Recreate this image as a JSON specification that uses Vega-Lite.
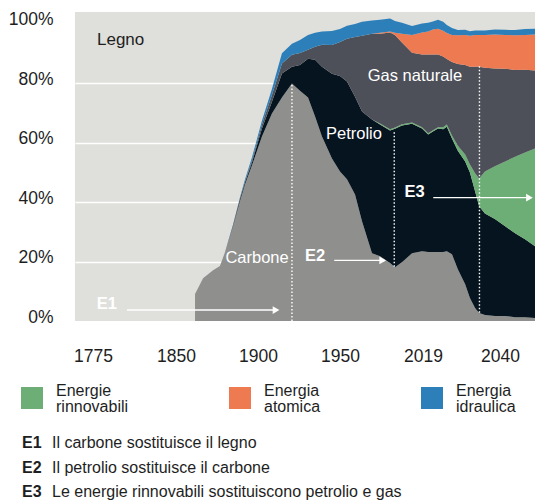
{
  "$schema": "https://vega.github.io/schema/vega-lite/v6.json",
  "padding": {"left": 8, "top": 10, "right": 0, "bottom": 0},
  "config": {"font": "Liberation Sans", "view": {"stroke": null}},
  "spacing": 70,
  "datasets": {
    "energy": [
      {"year": 1861.6, "Carbone": 9.1, "Petrolio": 0, "Energie rinnovabili": 0, "Gas naturale": 0, "Energia atomica": 0, "Energia idraulica": 0},
      {"year": 1866.5, "Carbone": 14.4, "Petrolio": 0, "Energie rinnovabili": 0, "Gas naturale": 0, "Energia atomica": 0, "Energia idraulica": 0},
      {"year": 1872.6, "Carbone": 17.1, "Petrolio": 0, "Energie rinnovabili": 0, "Gas naturale": 0, "Energia atomica": 0, "Energia idraulica": 0},
      {"year": 1876.8, "Carbone": 18.5, "Petrolio": 0, "Energie rinnovabili": 0, "Gas naturale": 0, "Energia atomica": 0, "Energia idraulica": 0},
      {"year": 1879.9, "Carbone": 23.2, "Petrolio": 0, "Energie rinnovabili": 0, "Gas naturale": 0, "Energia atomica": 0, "Energia idraulica": 0},
      {"year": 1884.8, "Carbone": 31.9, "Petrolio": 0.3, "Energie rinnovabili": 0, "Gas naturale": 0, "Energia atomica": 0, "Energia idraulica": 0.3},
      {"year": 1889.0, "Carbone": 40.3, "Petrolio": 0.7, "Energie rinnovabili": 0, "Gas naturale": 0.3, "Energia atomica": 0, "Energia idraulica": 0.3},
      {"year": 1892.1, "Carbone": 46.0, "Petrolio": 0.7, "Energie rinnovabili": 0, "Gas naturale": 0.3, "Energia atomica": 0, "Energia idraulica": 0.7},
      {"year": 1896.3, "Carbone": 52.3, "Petrolio": 1.0, "Energie rinnovabili": 0, "Gas naturale": 0.7, "Energia atomica": 0, "Energia idraulica": 1.0},
      {"year": 1902.4, "Carbone": 62.1, "Petrolio": 2.7, "Energie rinnovabili": 0, "Gas naturale": 1.3, "Energia atomica": 0, "Energia idraulica": 1.3},
      {"year": 1908.5, "Carbone": 69.8, "Petrolio": 4.0, "Energie rinnovabili": 0, "Gas naturale": 2.3, "Energia atomica": 0, "Energia idraulica": 2.0},
      {"year": 1914.6, "Carbone": 75.2, "Petrolio": 8.1, "Energie rinnovabili": 0, "Gas naturale": 3.4, "Energia atomica": 0, "Energia idraulica": 3.4},
      {"year": 1920.7, "Carbone": 79.9, "Petrolio": 5.7, "Energie rinnovabili": 0, "Gas naturale": 4.0, "Energia atomica": 0, "Energia idraulica": 3.7},
      {"year": 1925.6, "Carbone": 77.5, "Petrolio": 8.7, "Energie rinnovabili": 0, "Gas naturale": 4.0, "Energia atomica": 0, "Energia idraulica": 4.4},
      {"year": 1930.5, "Carbone": 75.2, "Petrolio": 13.1, "Energie rinnovabili": 0, "Gas naturale": 3.0, "Energia atomica": 0, "Energia idraulica": 5.0},
      {"year": 1934.8, "Carbone": 68.8, "Petrolio": 19.1, "Energie rinnovabili": 0, "Gas naturale": 4.4, "Energia atomica": 0, "Energia idraulica": 4.7},
      {"year": 1939.0, "Carbone": 62.1, "Petrolio": 23.5, "Energie rinnovabili": 0, "Gas naturale": 7.4, "Energia atomica": 0, "Energia idraulica": 4.4},
      {"year": 1945.1, "Carbone": 54.7, "Petrolio": 28.5, "Energie rinnovabili": 0, "Gas naturale": 9.7, "Energia atomica": 0, "Energia idraulica": 4.7},
      {"year": 1950.0, "Carbone": 50.3, "Petrolio": 32.2, "Energie rinnovabili": 0, "Gas naturale": 11.4, "Energia atomica": 0, "Energia idraulica": 4.4},
      {"year": 1955.8, "Carbone": 47.7, "Petrolio": 32.9, "Energie rinnovabili": 0, "Gas naturale": 14.4, "Energia atomica": 0, "Energia idraulica": 4.4},
      {"year": 1962.5, "Carbone": 42.6, "Petrolio": 32.9, "Energie rinnovabili": 0, "Gas naturale": 20.1, "Energia atomica": 0, "Energia idraulica": 4.4},
      {"year": 1968.3, "Carbone": 33.6, "Petrolio": 36.9, "Energie rinnovabili": 0, "Gas naturale": 25.5, "Energia atomica": 0, "Energia idraulica": 4.7},
      {"year": 1976.6, "Carbone": 22.8, "Petrolio": 45.0, "Energie rinnovabili": 0, "Gas naturale": 28.9, "Energia atomica": 0, "Energia idraulica": 4.4},
      {"year": 1983.3, "Carbone": 21.8, "Petrolio": 44.3, "Energie rinnovabili": 0.4, "Gas naturale": 30.2, "Energia atomica": 0.3, "Energia idraulica": 4.4},
      {"year": 1991.6, "Carbone": 19.5, "Petrolio": 44.6, "Energie rinnovabili": 0.4, "Gas naturale": 32.6, "Energia atomica": 0.3, "Energia idraulica": 4.4},
      {"year": 1995.7, "Carbone": 18.1, "Petrolio": 46.6, "Energie rinnovabili": 0.4, "Gas naturale": 31.2, "Energia atomica": 0.7, "Energia idraulica": 4.0},
      {"year": 2001.5, "Carbone": 19.8, "Petrolio": 46.0, "Energie rinnovabili": 0.4, "Gas naturale": 27.5, "Energia atomica": 3.0, "Energia idraulica": 3.7},
      {"year": 2009.9, "Carbone": 22.8, "Petrolio": 43.6, "Energie rinnovabili": 0.4, "Gas naturale": 23.5, "Energia atomica": 6.0, "Energia idraulica": 3.0},
      {"year": 2018.2, "Carbone": 23.5, "Petrolio": 41.3, "Energie rinnovabili": 0.4, "Gas naturale": 24.5, "Energia atomica": 7.4, "Energia idraulica": 3.0},
      {"year": 2020.4, "Carbone": 23.2, "Petrolio": 39.6, "Energie rinnovabili": 0.4, "Gas naturale": 26.5, "Energia atomica": 7.7, "Energia idraulica": 3.0},
      {"year": 2021.7, "Carbone": 23.2, "Petrolio": 40.6, "Energie rinnovabili": 0.4, "Gas naturale": 25.5, "Energia atomica": 8.4, "Energia idraulica": 2.7},
      {"year": 2023.1, "Carbone": 23.2, "Petrolio": 41.6, "Energie rinnovabili": 0.4, "Gas naturale": 24.5, "Energia atomica": 8.7, "Energia idraulica": 3.0},
      {"year": 2024.5, "Carbone": 23.2, "Petrolio": 41.3, "Energie rinnovabili": 0.7, "Gas naturale": 23.8, "Energia atomica": 8.7, "Energia idraulica": 3.0},
      {"year": 2025.5, "Carbone": 23.5, "Petrolio": 41.9, "Energie rinnovabili": 0.7, "Gas naturale": 22.1, "Energia atomica": 8.7, "Energia idraulica": 2.7},
      {"year": 2026.9, "Carbone": 22.5, "Petrolio": 38.9, "Energie rinnovabili": 1.0, "Gas naturale": 24.8, "Energia atomica": 9.1, "Energia idraulica": 2.3},
      {"year": 2028.5, "Carbone": 17.4, "Petrolio": 39.9, "Energie rinnovabili": 1.7, "Gas naturale": 27.5, "Energia atomica": 9.7, "Energia idraulica": 1.7},
      {"year": 2030.5, "Carbone": 12.4, "Petrolio": 41.3, "Energie rinnovabili": 2.3, "Gas naturale": 30.2, "Energia atomica": 10.1, "Energia idraulica": 1.7},
      {"year": 2031.8, "Carbone": 7.7, "Petrolio": 42.3, "Energie rinnovabili": 2.7, "Gas naturale": 32.9, "Energia atomica": 10.4, "Energia idraulica": 1.5},
      {"year": 2033.2, "Carbone": 4.4, "Petrolio": 39.3, "Energie rinnovabili": 6.0, "Gas naturale": 35.9, "Energia atomica": 10.7, "Energia idraulica": 1.5},
      {"year": 2034.3, "Carbone": 2.7, "Petrolio": 35.9, "Energie rinnovabili": 9.4, "Gas naturale": 37.6, "Energia atomica": 10.7, "Energia idraulica": 1.5},
      {"year": 2035.9, "Carbone": 2.0, "Petrolio": 34.2, "Energie rinnovabili": 14.1, "Gas naturale": 34.9, "Energia atomica": 11.1, "Energia idraulica": 1.5},
      {"year": 2038.6, "Carbone": 1.7, "Petrolio": 32.6, "Energie rinnovabili": 17.8, "Gas naturale": 32.9, "Energia atomica": 11.4, "Energia idraulica": 1.7},
      {"year": 2041.4, "Carbone": 1.7, "Petrolio": 30.2, "Energie rinnovabili": 21.8, "Gas naturale": 31.2, "Energia atomica": 11.4, "Energia idraulica": 1.7},
      {"year": 2044.1, "Carbone": 1.3, "Petrolio": 28.2, "Energie rinnovabili": 25.8, "Gas naturale": 29.2, "Energia atomica": 11.7, "Energia idraulica": 1.7},
      {"year": 2046.8, "Carbone": 1.3, "Petrolio": 26.2, "Energie rinnovabili": 29.2, "Gas naturale": 27.9, "Energia atomica": 11.7, "Energia idraulica": 2.0},
      {"year": 2049.5, "Carbone": 1.0, "Petrolio": 24.2, "Energie rinnovabili": 32.9, "Gas naturale": 26.2, "Energia atomica": 12.1, "Energia idraulica": 2.0}
    ],
    "stackorder": [
      {"series": "Carbone", "ord": 1},
      {"series": "Petrolio", "ord": 2},
      {"series": "Energie rinnovabili", "ord": 3},
      {"series": "Gas naturale", "ord": 4},
      {"series": "Energia atomica", "ord": 5},
      {"series": "Energia idraulica", "ord": 6}
    ]
  },
  "vconcat": [
    {
      "width": 460,
      "height": 309,
      "view": {"fill": "#dfdfdb", "stroke": null},
      "encoding": {
        "x": {
          "field": "year", "type": "quantitative",
          "scale": {"domain": [1758.7, 1775, 1850, 1900, 1950, 2019, 2040, 2049.5], "range": [0, 18, 101, 183, 265, 348, 425, 460], "nice": false, "zero": false},
          "axis": {"values": [1775, 1850, 1900, 1950, 2019, 2040], "format": "d", "title": null, "domain": false, "ticks": false, "tickSize": 0, "grid": false, "labelPadding": 40, "labelBaseline": "alphabetic", "labelFontSize": 17.5, "labelColor": "#1e1e1e", "labelFlush": false, "labelOverlap": false}
        },
        "y": {
          "field": "pct", "type": "quantitative",
          "scale": {"domain": [0, 104], "nice": false},
          "axis": {"values": [0, 20, 40, 60, 80, 100], "labelExpr": "datum.value + '%'", "title": null, "domain": false, "ticks": false, "tickSize": 0, "grid": true, "gridColor": {"condition": {"test": "datum.value == 0 || datum.value == 100", "value": "transparent"}, "value": "#ffffff"}, "gridWidth": 1.3, "labelPadding": 22, "labelBaseline": "alphabetic", "labelOffset": 1, "labelFontSize": 17.5, "labelColor": "#1e1e1e", "labelOverlap": false}
        }
      },
      "layer": [
        {
          "data": {"name": "energy"},
          "transform": [
            {"fold": ["Carbone", "Petrolio", "Energie rinnovabili", "Gas naturale", "Energia atomica", "Energia idraulica"], "as": ["series", "pct"]},
            {"lookup": "series", "from": {"data": {"name": "stackorder"}, "key": "series", "fields": ["ord"]}}
          ],
          "mark": {"type": "area", "interpolate": "linear"},
          "encoding": {
            "y": {"field": "pct", "type": "quantitative", "stack": "zero"},
            "order": {"field": "ord", "type": "quantitative"},
            "color": {
              "field": "series", "type": "nominal",
              "scale": {"domain": ["Carbone", "Petrolio", "Energie rinnovabili", "Gas naturale", "Energia atomica", "Energia idraulica"], "range": ["#8f908e", "#06141f", "#6cae75", "#4d5058", "#ee7a52", "#2d7fb9"]},
              "legend": {"values": ["Energie rinnovabili", "Energia atomica", "Energia idraulica"], "labelExpr": "split(datum.label, ' ')", "title": null, "orient": "none", "legendX": -54, "legendY": 375, "direction": "horizontal", "columns": 3, "gridAlign": "none", "columnPadding": 100, "symbolType": "square", "symbolSize": 484, "symbolStrokeWidth": 0, "symbolOpacity": 1, "labelFontSize": 16, "labelOffset": 13, "labelLimit": 200, "labelColor": "#1e1e1e", "padding": 0, "encode": {"labels": {"update": {"lineHeight": {"value": 16}, "dy": {"value": -7}}}}}
            }
          }
        },
        {
          "data": {"values": [
            {"year": 1920.7, "pct": 0, "pct2": 79.9},
            {"year": 1995.1, "pct": 18.3, "pct2": 64.0},
            {"year": 2034.4, "pct": 2.8, "pct2": 85.7}
          ]},
          "mark": {"type": "rule", "color": "#ffffff", "strokeWidth": 1.4, "strokeDash": [1.5, 2]},
          "encoding": {"y2": {"field": "pct2"}}
        },
        {
          "data": {"values": [
            {"year": 1805.7, "year2": 1911.0, "pct": 3.7},
            {"year": 1946.5, "year2": 1985.5, "pct": 20.4},
            {"year": 2021.8, "year2": 2048.0, "pct": 41.5}
          ]},
          "mark": {"type": "rule", "color": "#ffffff", "strokeWidth": 1.3},
          "encoding": {"x2": {"field": "year2"}}
        },
        {
          "data": {"values": [
            {"year": 1911.0, "pct": 3.7},
            {"year": 1985.5, "pct": 20.4},
            {"year": 2048.0, "pct": 41.5}
          ]},
          "mark": {"type": "point", "shape": "triangle-right", "filled": true, "color": "#ffffff", "opacity": 1, "size": 60, "strokeWidth": 0}
        },
        {
          "data": {"values": [{"label": "Legno", "year": 1778.6, "pct": 92.8}]},
          "mark": {"type": "text", "align": "left", "baseline": "alphabetic", "fontSize": 17, "color": "#1e1e1e"},
          "encoding": {"text": {"field": "label"}}
        },
        {
          "data": {"values": [
            {"label": "Gas naturale", "year": 2012.3, "pct": 80.8},
            {"label": "Petrolio", "year": 1961.6, "pct": 61.3},
            {"label": "Carbone", "year": 1899.4, "pct": 19.4}
          ]},
          "mark": {"type": "text", "align": "center", "baseline": "alphabetic", "fontSize": 16.5, "color": "#ffffff"},
          "encoding": {"text": {"field": "label"}}
        },
        {
          "data": {"values": [
            {"label": "E1", "year": 1787.4, "pct": 4.0},
            {"label": "E2", "year": 1934.8, "pct": 20.2},
            {"label": "E3", "year": 2012.1, "pct": 41.6}
          ]},
          "mark": {"type": "text", "align": "center", "baseline": "alphabetic", "fontSize": 16.5, "fontWeight": "bold", "color": "#ffffff"},
          "encoding": {"text": {"field": "label"}}
        }
      ]
    },
    {
      "width": 460,
      "height": 73.5,
      "view": {"stroke": null},
      "data": {"values": [
        {"key": "E1", "note": "Il carbone sostituisce il legno"},
        {"key": "E2", "note": "Il petrolio sostituisce il carbone"},
        {"key": "E3", "note": "Le energie rinnovabili sostituiscono petrolio e gas"}
      ]},
      "encoding": {
        "y": {"field": "key", "type": "nominal", "axis": null, "scale": {"type": "point", "padding": 0.5}},
        "x": {"datum": 0, "type": "quantitative", "scale": {"domain": [0, 1]}, "axis": null}
      },
      "layer": [
        {
          "mark": {"type": "text", "align": "left", "baseline": "alphabetic", "fontSize": 16, "fontWeight": "bold", "dx": -53, "color": "#1e1e1e"},
          "encoding": {"text": {"field": "key"}}
        },
        {
          "mark": {"type": "text", "align": "left", "baseline": "alphabetic", "fontSize": 16, "dx": -23, "color": "#1e1e1e"},
          "encoding": {"text": {"field": "note"}}
        }
      ]
    }
  ]
}
